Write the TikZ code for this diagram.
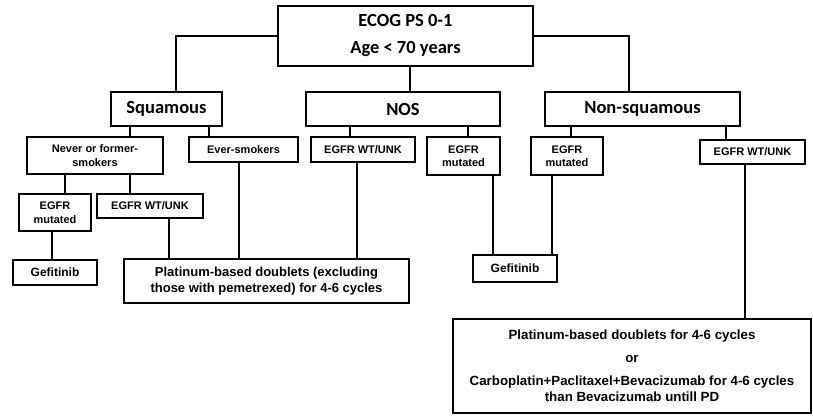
\documentclass[tikz,border=0pt]{standalone}
\usepackage{fontspec}
\setmainfont{Carlito}
\newfontfamily\arialf{Liberation Sans}
\begin{document}
\begin{tikzpicture}[x=1pt,y=-1pt,
  box/.style={draw=black,line width=1.1pt,rectangle,inner sep=0pt,align=center},
  big/.style={box,font=\fontsize{18.5}{21}\selectfont\bfseries},
  small/.style={box,font=\arialf\fontsize{11}{13.5}\selectfont\bfseries},
  mid/.style={box,font=\arialf\fontsize{13}{16}\selectfont\bfseries},
  conn/.style={draw=black,line width=1.1pt}]
\useasboundingbox (0,0) rectangle (813,415);
% level 0
\node[big,minimum width=255pt,minimum height=60pt] (top) at (405.5,36) {ECOG PS 0-1\\[6pt]Age < 70 years};
% level 1
\node[big,minimum width=111pt,minimum height=34pt] (sq) at (166.5,109) {Squamous};
\node[big,minimum width=194pt,minimum height=34pt] (nos) at (403,109) {NOS};
\node[big,minimum width=195pt,minimum height=34pt] (nsq) at (642.5,109) {Non-squamous};
% level 2
\node[small,minimum width=136pt,minimum height=37pt] (never) at (95,155.5) {Never or former-\\smokers};
\node[small,minimum width=109pt,minimum height=25pt] (ever) at (243.5,149.5) {Ever-smokers};
\node[small,minimum width=104pt,minimum height=25pt] (nwt) at (363,149.5) {EGFR WT/UNK};
\node[small,minimum width=73pt,minimum height=38pt] (nmut) at (463.5,156) {EGFR\\mutated};
\node[small,minimum width=72pt,minimum height=38pt] (qmut) at (567,156) {EGFR\\mutated};
\node[small,minimum width=105pt,minimum height=24pt] (qwt) at (752.5,152) {EGFR WT/UNK};
% level 3
\node[small,minimum width=72pt,minimum height=37pt] (smut) at (55,212.5) {EGFR\\mutated};
\node[small,minimum width=106pt,minimum height=24pt] (swt) at (150,206) {EGFR WT/UNK};
% level 4
\node[mid,minimum width=84pt,minimum height=25pt,font=\arialf\fontsize{12}{15}\selectfont\bfseries] (gef1) at (55,272.5) {Gefitinib};
\node[mid,minimum width=285pt,minimum height=44pt] (plat) at (266.5,281) {Platinum-based doublets (excluding\\those with pemetrexed) for 4-6 cycles};
\node[mid,minimum width=84pt,minimum height=27pt,font=\arialf\fontsize{12}{15}\selectfont\bfseries] (gef2) at (515,268.5) {Gefitinib};
\node[mid,minimum width=358pt,minimum height=94pt,font=\arialf\fontsize{13.3}{16}\selectfont\bfseries] (final) at (632,366) {Platinum-based doublets for 4-6 cycles\\[7pt]or\\[7pt]Carboplatin+Paclitaxel+Bevacizumab for 4-6 cycles\\than Bevacizumab untill PD};
% connectors
\draw[conn] (top.west) -| (sq.north -| 176,0);
\draw[conn] (top.east) -| (nsq.north -| 629,0);
\draw[conn] (top.south -| 410,0) -- (nos.north -| 410,0);
\draw[conn] (sq.south -| 130,0) -- (never.north -| 130,0);
\draw[conn] (sq.south -| 209,0) -- (ever.north -| 209,0);
\draw[conn] (nos.south -| 350,0) -- (nwt.north -| 350,0);
\draw[conn] (nos.south -| 468,0) -- (nmut.north -| 468,0);
\draw[conn] (nsq.south -| 571,0) -- (qmut.north -| 571,0);
\draw[conn] (nsq.south -| 726,0) -- (qwt.north -| 726,0);
\draw[conn] (never.south -| 65,0) -- (smut.north -| 65,0);
\draw[conn] (never.south -| 130,0) -- (swt.north -| 130,0);
\draw[conn] (smut.south -| 52,0) -- (gef1.north -| 52,0);
\draw[conn] (swt.south -| 169,0) -- (plat.north -| 169,0);
\draw[conn] (ever.south -| 239,0) -- (plat.north -| 239,0);
\draw[conn] (nwt.south -| 357,0) -- (plat.north -| 357,0);
\draw[conn] (nmut.south -| 493,0) -- (gef2.north -| 493,0);
\draw[conn] (qmut.south -| 552,0) -- (gef2.north -| 552,0);
\draw[conn] (qwt.south -| 745,0) -- (final.north -| 745,0);
\end{tikzpicture}
\end{document}
